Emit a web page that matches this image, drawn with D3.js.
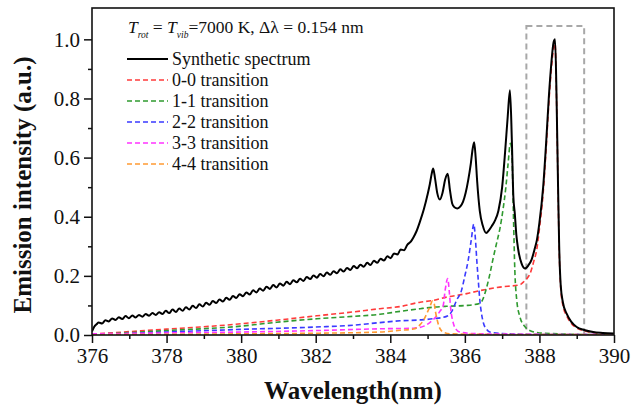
<!DOCTYPE html>
<html>
<head>
<meta charset="utf-8">
<script src="https://cdn.jsdelivr.net/npm/d3@7/dist/d3.min.js"></script>
<style>
  html, body { margin: 0; padding: 0; background: #fff; }
  svg { display: block; }
  text { font-family: "Liberation Serif", "Times New Roman", serif; fill: #111; }
</style>
</head>
<body>
<svg id="chart" width="633" height="408"></svg>
<script>
// CN violet (B-X, Δv = 0) emission: synthetic spectrum and its vibrational transitions
const xTicks = [376, 378, 380, 382, 384, 386, 388, 390];
const xMinorTicks = [377, 379, 381, 383, 385, 387, 389];
const yTicks = [0.0, 0.2, 0.4, 0.6, 0.8, 1.0];
const yMinorTicks = [0.1, 0.3, 0.5, 0.7, 0.9];

const seriesNames = ["Synthetic spectrum", "0-0 transition", "1-1 transition", "2-2 transition", "3-3 transition", "4-4 transition"];
const seriesColors = ["#000000", "#ff3b3b", "#2f9a2f", "#3a3aff", "#ff33ff", "#ff9a33"];

// Synthetic spectrum [wavelength (nm), normalised intensity]
const synthetic = [
  [376.00, 0.012], [376.06, 0.028], [376.12, 0.036],
  [376.18, 0.042], [376.27, 0.039], [376.36, 0.050], [376.45, 0.046], [376.54, 0.056],
  [376.63, 0.051], [376.72, 0.060], [376.81, 0.054], [376.90, 0.064], [376.99, 0.057],
  [377.08, 0.066], [377.17, 0.059], [377.26, 0.068], [377.35, 0.062], [377.44, 0.071],
  [377.53, 0.065], [377.62, 0.074], [377.71, 0.068], [377.80, 0.077], [377.89, 0.071],
  [377.98, 0.082], [378.07, 0.074], [378.16, 0.086], [378.25, 0.078], [378.34, 0.090],
  [378.43, 0.082], [378.52, 0.094], [378.61, 0.086], [378.70, 0.099], [378.79, 0.091],
  [378.88, 0.104], [378.97, 0.096], [379.06, 0.109], [379.15, 0.102], [379.24, 0.115],
  [379.33, 0.108], [379.42, 0.120], [379.51, 0.113], [379.60, 0.126], [379.69, 0.119],
  [379.78, 0.132], [379.87, 0.125], [379.96, 0.138], [380.05, 0.131], [380.14, 0.144],
  [380.23, 0.137], [380.32, 0.151], [380.41, 0.144], [380.50, 0.157], [380.59, 0.150],
  [380.68, 0.163], [380.77, 0.156], [380.86, 0.169], [380.95, 0.161], [381.04, 0.174],
  [381.13, 0.167], [381.22, 0.180], [381.31, 0.172], [381.40, 0.185], [381.49, 0.178],
  [381.58, 0.190], [381.67, 0.183], [381.76, 0.196], [381.85, 0.189], [381.94, 0.201],
  [382.03, 0.194], [382.12, 0.206], [382.21, 0.199], [382.30, 0.211], [382.39, 0.204],
  [382.48, 0.216], [382.57, 0.209], [382.66, 0.222], [382.75, 0.215], [382.84, 0.227],
  [382.93, 0.220], [383.02, 0.233], [383.11, 0.226], [383.20, 0.238], [383.29, 0.231],
  [383.38, 0.244], [383.47, 0.237], [383.56, 0.251], [383.65, 0.244], [383.74, 0.258],
  [383.83, 0.252], [383.92, 0.266], [384.01, 0.260], [384.10, 0.276], [384.19, 0.272],
  [384.28, 0.289], [384.37, 0.287], [384.46, 0.306],
  [384.55, 0.316], [384.62, 0.330], [384.70, 0.350], [384.80, 0.385], [384.90, 0.425],
  [385.00, 0.475], [385.06, 0.510], [385.11, 0.545], [385.15, 0.563], [385.20, 0.530],
  [385.26, 0.480], [385.33, 0.458], [385.40, 0.480], [385.47, 0.525], [385.54, 0.545],
  [385.60, 0.490], [385.66, 0.445], [385.72, 0.432], [385.80, 0.428], [385.88, 0.435],
  [385.95, 0.450], [386.02, 0.480], [386.09, 0.524], [386.16, 0.580], [386.21, 0.630],
  [386.25, 0.652], [386.29, 0.600], [386.33, 0.520], [386.40, 0.420], [386.48, 0.370],
  [386.57, 0.345], [386.65, 0.355], [386.72, 0.368], [386.80, 0.385], [386.90, 0.420],
  [387.00, 0.500], [387.08, 0.620], [387.15, 0.740], [387.21, 0.828], [387.26, 0.660],
  [387.30, 0.470], [387.34, 0.410], [387.38, 0.340], [387.43, 0.290], [387.52, 0.242],
  [387.61, 0.225], [387.70, 0.235], [387.79, 0.255], [387.87, 0.290], [387.93, 0.320],
  [388.00, 0.380], [388.10, 0.500], [388.18, 0.650], [388.25, 0.800], [388.32, 0.920],
  [388.38, 0.990], [388.42, 1.000], [388.46, 0.800], [388.50, 0.500], [388.53, 0.300],
  [388.57, 0.170], [388.63, 0.110], [388.73, 0.072], [388.85, 0.045], [389.00, 0.027],
  [389.20, 0.017], [389.44, 0.010], [389.70, 0.007], [390.00, 0.005]
];

// Band 0-0
const band00 = [
  [376.00, 0.003], [376.84, 0.010], [378.00, 0.020], [378.90, 0.027], [380.00, 0.038],
  [380.95, 0.050], [382.03, 0.065], [383.00, 0.078], [383.72, 0.089], [384.26, 0.096],
  [384.80, 0.111], [385.15, 0.117], [385.51, 0.128], [386.05, 0.140], [386.40, 0.150],
  [386.94, 0.162], [387.48, 0.170], [387.57, 0.179], [387.66, 0.190], [387.75, 0.208],
  [387.85, 0.250], [387.93, 0.290], [388.00, 0.360], [388.10, 0.480], [388.18, 0.630],
  [388.25, 0.780], [388.32, 0.900], [388.38, 0.970], [388.42, 0.985], [388.46, 0.790],
  [388.50, 0.490], [388.53, 0.290], [388.57, 0.160], [388.63, 0.100], [388.73, 0.065],
  [388.85, 0.040], [389.00, 0.024], [389.20, 0.014], [389.44, 0.008], [389.70, 0.005],
  [390.00, 0.003]
];

// Band 1-1
const band11 = [
  [376.00, 0.002], [376.84, 0.007], [378.00, 0.015], [380.00, 0.030], [380.95, 0.043],
  [382.03, 0.055], [383.00, 0.063], [383.72, 0.070], [384.26, 0.080], [384.80, 0.089],
  [385.15, 0.094], [385.51, 0.097], [386.05, 0.100], [386.40, 0.107], [386.48, 0.120],
  [386.56, 0.150], [386.66, 0.200], [386.76, 0.260], [386.85, 0.310], [386.94, 0.360],
  [387.03, 0.430], [387.10, 0.500], [387.16, 0.580], [387.22, 0.648], [387.26, 0.620],
  [387.30, 0.420], [387.34, 0.220], [387.39, 0.120], [387.48, 0.060], [387.60, 0.030],
  [387.80, 0.012], [388.00, 0.007], [388.50, 0.004], [389.00, 0.002], [390.00, 0.001]
];

// Band 2-2
const band22 = [
  [376.00, 0.001], [377.00, 0.005], [378.00, 0.010], [380.00, 0.019], [382.00, 0.027],
  [383.00, 0.033], [383.72, 0.042], [384.26, 0.048], [384.80, 0.051], [385.15, 0.055],
  [385.51, 0.063], [385.65, 0.080], [385.78, 0.118], [385.91, 0.151], [386.00, 0.200],
  [386.09, 0.253], [386.17, 0.320], [386.24, 0.375], [386.28, 0.330], [386.32, 0.253],
  [386.36, 0.185], [386.40, 0.120], [386.45, 0.070], [386.50, 0.040], [386.58, 0.020],
  [386.67, 0.010], [387.00, 0.005], [388.00, 0.002], [390.00, 0.001]
];

// Band 3-3
const band33 = [
  [376.00, 0.004], [378.00, 0.007], [380.00, 0.010], [382.00, 0.015], [383.72, 0.021],
  [384.62, 0.023], [384.90, 0.030], [385.06, 0.042], [385.20, 0.058], [385.33, 0.080],
  [385.42, 0.100], [385.47, 0.150], [385.54, 0.191], [385.58, 0.150], [385.62, 0.090],
  [385.69, 0.040], [385.76, 0.020], [385.87, 0.010], [386.20, 0.005], [387.00, 0.003],
  [390.00, 0.001]
];

// Band 4-4
const band44 = [
  [376.00, 0.001], [378.00, 0.002], [380.00, 0.004], [382.00, 0.006], [383.72, 0.010],
  [384.26, 0.016], [384.62, 0.020], [384.80, 0.035], [384.90, 0.052], [384.97, 0.070],
  [385.06, 0.095], [385.13, 0.115], [385.17, 0.110], [385.21, 0.080], [385.26, 0.050],
  [385.33, 0.022], [385.45, 0.008], [385.60, 0.004], [386.50, 0.002], [390.00, 0.001]
];

// Highlighted region around the 0-0 band head
const boxWavelength = [387.65, 389.2];
const boxIntensity = [0, 1.045];

const svg = d3.select("#chart");
const plot = { left: 92, right: 614, top: 8, bottom: 335 };

const x = d3.scaleLinear().domain([376, 390]).range([plot.left, plot.right]);
const y = d3.scaleLinear().domain([0, 1.106]).range([plot.bottom, plot.top]);

svg.append("defs").append("clipPath").attr("id", "clip")
  .append("rect")
  .attr("x", plot.left).attr("y", plot.top)
  .attr("width", plot.right - plot.left).attr("height", plot.bottom - plot.top);

const line = d3.line()
  .x(d => x(d[0]))
  .y(d => y(d[1]))
  .curve(d3.curveMonotoneX);

const curves = svg.append("g").attr("clip-path", "url(#clip)");

// dashed selection box
curves.append("rect")
  .attr("x", x(boxWavelength[0]))
  .attr("y", y(boxIntensity[1]))
  .attr("width", x(boxWavelength[1]) - x(boxWavelength[0]))
  .attr("height", y(boxIntensity[0]) - y(boxIntensity[1]))
  .attr("fill", "none")
  .attr("stroke", "#a8a8a8")
  .attr("stroke-width", 2)
  .attr("stroke-dasharray", "6,4");

const bands = [band00, band11, band22, band33, band44];
bands.forEach((b, i) => {
  curves.append("path")
    .datum(b)
    .attr("d", line)
    .attr("fill", "none")
    .attr("stroke", seriesColors[i + 1])
    .attr("stroke-width", 1.6)
    .attr("stroke-dasharray", "5,3");
});

curves.append("path")
  .datum(synthetic)
  .attr("d", line)
  .attr("fill", "none")
  .attr("stroke", seriesColors[0])
  .attr("stroke-width", 2)
  .attr("stroke-linejoin", "round");

// axes
svg.append("g")
  .attr("transform", `translate(0,${plot.bottom})`)
  .call(d3.axisBottom(x).tickValues(xTicks).tickFormat(d3.format("d")).tickSize(8).tickPadding(5));
svg.append("g")
  .attr("transform", `translate(0,${plot.bottom})`)
  .call(d3.axisBottom(x).tickValues(xMinorTicks).tickFormat("").tickSize(4));

svg.append("g")
  .attr("transform", `translate(${plot.left},0)`)
  .call(d3.axisLeft(y).tickValues(yTicks).tickFormat(d3.format(".1f")).tickSize(8).tickPadding(4));
svg.append("g")
  .attr("transform", `translate(${plot.left},0)`)
  .call(d3.axisLeft(y).tickValues(yMinorTicks).tickFormat("").tickSize(4));

svg.selectAll(".domain").remove();
svg.selectAll(".tick line").attr("stroke", "#111").attr("stroke-width", 1.5);
svg.selectAll(".tick text")
  .style("font-family", '"Liberation Serif", "Times New Roman", serif')
  .style("font-size", "21px")
  .attr("fill", "#111");

// frame
svg.append("rect")
  .attr("x", plot.left).attr("y", plot.top)
  .attr("width", plot.right - plot.left).attr("height", plot.bottom - plot.top)
  .attr("fill", "none").attr("stroke", "#111").attr("stroke-width", 1.6);

// axis titles
svg.append("text")
  .attr("x", (plot.left + plot.right) / 2)
  .attr("y", 399)
  .attr("text-anchor", "middle")
  .style("font-weight", "bold")
  .style("font-size", "25px")
  .text("Wavelength(nm)");

svg.append("text")
  .attr("transform", "translate(22,185) rotate(-90)")
  .attr("text-anchor", "middle")
  .attr("dominant-baseline", "central")
  .style("font-weight", "bold")
  .style("font-size", "25px")
  .text("Emission intensity (a.u.)");

// condition label
const cond = svg.append("text").attr("x", 128).attr("y", 33).style("font-size", "17.5px");
cond.append("tspan").style("font-style", "italic").text("T");
cond.append("tspan").style("font-style", "italic").style("font-size", "9.5px").attr("dy", 5).text("rot");
cond.append("tspan").attr("dy", -5).text(" = ");
cond.append("tspan").style("font-style", "italic").text("T");
cond.append("tspan").style("font-style", "italic").style("font-size", "9.5px").attr("dy", 5).text("vib");
cond.append("tspan").attr("dy", -5).text("=7000 K, \u0394\u03bb = 0.154 nm");

// legend
const legend = svg.append("g");
seriesNames.forEach((name, i) => {
  const cy = 59 + i * 21;
  legend.append("line")
    .attr("x1", 127).attr("x2", 168)
    .attr("y1", cy).attr("y2", cy)
    .attr("stroke", seriesColors[i])
    .attr("stroke-width", i === 0 ? 2 : 1.6)
    .attr("stroke-dasharray", i === 0 ? null : "5,3");
  legend.append("text")
    .attr("x", 172).attr("y", cy + 6)
    .style("font-size", "18px")
    .text(name);
});
</script>
</body>
</html>
